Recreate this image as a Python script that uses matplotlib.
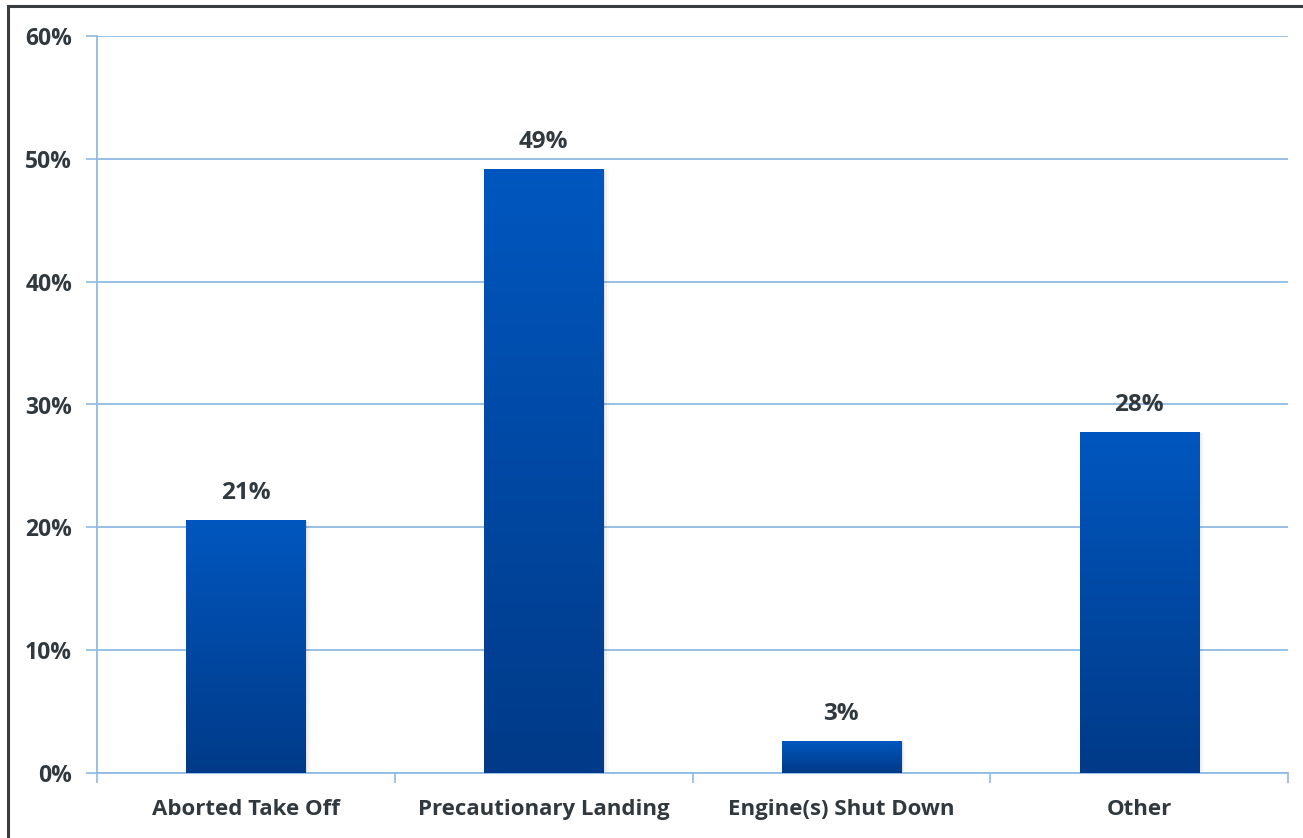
import numpy as np
import matplotlib.pyplot as plt
from matplotlib.patches import Rectangle
from matplotlib.colors import LinearSegmentedColormap
from matplotlib.ticker import MultipleLocator, PercentFormatter

categories = ['Aborted Take Off', 'Precautionary Landing', 'Engine(s) Shut Down', 'Other']
shares = [20.6, 49.2, 2.6, 27.8]
value_labels = ['21%', '49%', '3%', '28%']

text_color = '#31393f'
grid_color = '#8fbae3'
plt.rcParams['font.family'] = ['Open Sans', 'DejaVu Sans']
plt.rcParams['font.weight'] = 'bold'

fig = plt.figure(figsize=(13.03, 8.38), dpi=100)
ax = fig.add_axes([97 / 1303, 1 - 773 / 838, (1288 - 97) / 1303, (773 - 36) / 838])

x = np.arange(len(categories))
bars = ax.bar(x, shares, width=0.4, color='none', edgecolor='none', zorder=3)

# vertical gradient for each bar, light at the top, dark at the base
grad = LinearSegmentedColormap.from_list('bluegrad', ['#003a88', '#0057bf'])
for b in bars:
    x0, w, h = b.get_x(), b.get_width(), b.get_height()
    # soft drop shadow
    for k, a in enumerate([0.06, 0.04, 0.02]):
        d = 0.006 * (k + 1)
        ax.add_patch(Rectangle((x0 + d, 0), w, h - 0.05 * (k + 1), color='black',
                               alpha=a, lw=0, zorder=2))
    img = ax.imshow(np.linspace(0, 1, 256).reshape(-1, 1), cmap=grad, origin='lower',
                    aspect='auto', extent=(x0, x0 + w, 0, h), zorder=3)
    img.set_clip_path(b)

for xi, v, lab in zip(x, shares, value_labels):
    ax.text(xi, v + 1.2, lab, ha='center', va='bottom', fontsize=17.5,
            fontweight='bold', color=text_color)

ax.set_xlim(-0.5, len(categories) - 0.5)
ax.set_ylim(0, 60)
ax.yaxis.set_major_locator(MultipleLocator(10))
ax.yaxis.set_major_formatter(PercentFormatter(decimals=0))
ax.set_xticks(x)
ax.set_xticklabels(categories)
ax.set_xticks(np.arange(-0.5, len(categories)), minor=True)
ax.tick_params(axis='x', which='major', length=0, pad=19, labelsize=16, labelcolor=text_color)
ax.tick_params(axis='x', which='minor', length=7, width=1.2, color=grid_color)
ax.tick_params(axis='y', length=8, width=1.2, color=grid_color, pad=10,
               labelsize=16.5, labelcolor=text_color)
for lab in ax.get_xticklabels() + ax.get_yticklabels():
    lab.set_fontweight('bold')

ax.grid(axis='y', color=grid_color, lw=1.3, zorder=0)
ax.set_axisbelow(True)
for side in ['top', 'right']:
    ax.spines[side].set_visible(False)
for side in ['left', 'bottom']:
    ax.spines[side].set_color(grid_color)
    ax.spines[side].set_linewidth(1.3)

# outer frame, running off the right and bottom edges
fig.patches.append(Rectangle((8 / 1303, -0.1), 1.2, 1 - 6 / 838 + 0.1, transform=fig.transFigure,
                             fill=False, edgecolor='#3a3d40', lw=2.2))

fig.savefig('out.png', dpi=100)
